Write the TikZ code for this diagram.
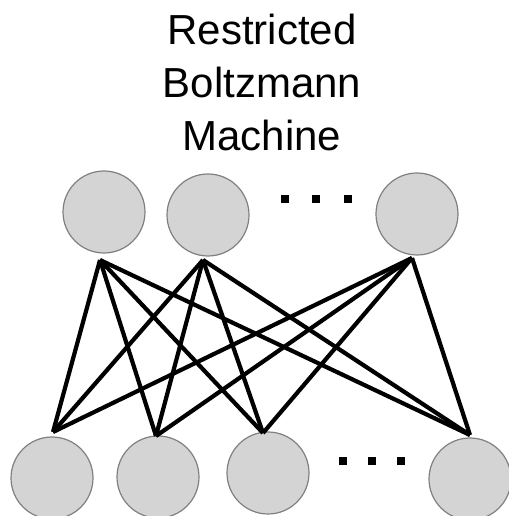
\documentclass[tikz,border=0pt]{standalone}
\usepackage{fontspec}
\setmainfont{Liberation Sans}
\begin{document}
\begin{tikzpicture}[x=1pt,y=1pt,
  unit/.style={circle,draw=black!50,line width=1.2pt,fill=black!17,minimum size=82pt,inner sep=0pt},
  link/.style={line width=4.2pt},
  dotsq/.style={fill=black,minimum size=8pt,inner sep=0pt,rectangle}]
\useasboundingbox (0,0) rectangle (508,516);
\node[font=\fontsize{42}{53}\selectfont,align=center,inner sep=0pt] (title) at (262,434) {Restricted\\Boltzmann\\Machine};
% hidden layer
\node[unit] (h1) at (104,304) {};
\node[unit] (h2) at (208,301) {};
\node[unit] (h3) at (417,302) {};
\node[dotsq] (hd1) at (285,317) {};
\node[dotsq] (hd2) at (316,317) {};
\node[dotsq] (hd3) at (348,317) {};
% visible layer
\node[unit] (v1) at (52,38) {};
\node[unit] (v2) at (158,39) {};
\node[unit] (v3) at (268,43) {};
\node[unit] (v4) at (470,37) {};
\node[dotsq] (vd1) at (343,55) {};
\node[dotsq] (vd2) at (372,55) {};
\node[dotsq] (vd3) at (401,55) {};
% connection end points
\coordinate (t1) at (100,256);
\coordinate (t2) at (203,256);
\coordinate (t3) at (412,258);
\coordinate (b1) at (53,84);
\coordinate (b2) at (156,80);
\coordinate (b3) at (263,83);
\coordinate (b4) at (470,81);
\foreach \t in {t1,t2,t3}{
  \foreach \b in {b1,b2,b3,b4}{
    \draw[link] (\t) -- (\b);
  }
}
\end{tikzpicture}
\end{document}
